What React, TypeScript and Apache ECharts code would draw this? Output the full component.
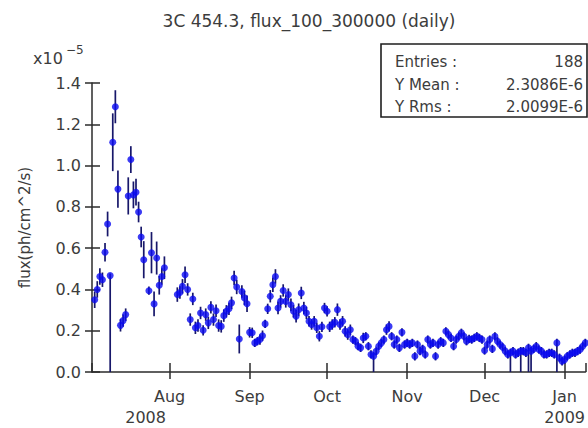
import React, { useEffect, useRef } from "react";
import * as echarts from "echarts";

// Daily light curve of 3C 454.3, flux in units of 1e-5 ph/cm^2/s.
const chartTitle = "3C 454.3, flux_100_300000 (daily)";
const yAxisTitle = "flux(ph/cm^2/s)";
const monthNames = ["Jan", "Feb", "Mar", "Apr", "May", "Jun", "Jul", "Aug", "Sep", "Oct", "Nov", "Dec"];

// First daily bin: 2008-07-03 (month is 0-based)
const firstDay = [2008, 6, 3];

const flux: (number | null)[] = [
  0.35, 0.4, 0.463, 0.447, 0.58, 0.717, 0.467, 1.113, 1.285, 0.886,
  0.226, 0.249, 0.278, 0.853, 1.029, 0.858, 0.871, 0.775, 0.654, 0.544,
  null, 0.394, 0.578, 0.33, 0.552, 0.42, 0.463, 0.505, null, null,
  null, null, 0.375, 0.385, 0.415, 0.471, 0.4, 0.254, 0.354, 0.214,
  0.225, 0.286, 0.202, 0.278, 0.238, 0.313, 0.254, 0.297, 0.225, 0.221,
  0.273, 0.294, 0.306, 0.335, 0.455, 0.412, 0.16, 0.39, 0.359, 0.331,
  0.192, 0.19, 0.141, 0.149, 0.157, 0.176, 0.233, 0.306, 0.367, 0.423,
  0.463, 0.31, 0.342, 0.395, 0.342, 0.375, 0.326, 0.294, 0.27, 0.302,
  0.383, 0.31, 0.286, 0.246, 0.23, 0.246, 0.214, 0.173, 0.219, 0.31,
  0.294, 0.219, 0.23, 0.241, 0.302, 0.23, 0.246, 0.197, 0.181, 0.205,
  0.157, 0.149, 0.125, 0.117, 0.165, 0.173, 0.125, 0.085, 0.076, 0.1,
  0.125, 0.141, 0.157, 0.205, 0.221, 0.173, 0.133, 0.157, 0.117, 0.192,
  0.133, 0.141, 0.133, 0.141, 0.076, 0.133, 0.101, 0.112, 0.085, 0.157,
  0.133, 0.141, 0.076, 0.133, 0.149, 0.141, 0.197, 0.181, 0.165, 0.125,
  0.157, 0.173, 0.19, 0.173, 0.149, 0.16, 0.157, 0.165, 0.173, 0.165,
  0.157, 0.104, 0.133, 0.157, 0.112, 0.173, 0.149, 0.133, 0.12, 0.101,
  0.085, 0.093, 0.101, 0.085, 0.093, 0.101, 0.101, 0.093, 0.117, 0.101,
  0.112, 0.125, 0.109, 0.101, 0.085, 0.085, 0.093, 0.093, 0.085, 0.141,
  0.069, 0.052, 0.06, 0.076, 0.085, 0.093, 0.093, 0.101, 0.109, 0.125,
  0.141,
];

const fluxErr: (number | null)[] = [
  0.04, 0.04, 0.04, 0.035, 0.045, 0.06, 0.01, 0.14, 0.08, 0.09,
  0.03, 0.03, 0.03, 0.09, 0.065, 0.065, 0.065, 0.05, 0.05, 0.09,
  null, 0.02, 0.1, 0.06, 0.08, 0.045, 0.04, 0.055, null, null,
  null, null, 0.035, 0.03, 0.035, 0.04, 0.03, 0.03, 0.03, 0.03,
  0.03, 0.03, 0.025, 0.03, 0.03, 0.03, 0.03, 0.03, 0.03, 0.03,
  0.03, 0.03, 0.03, 0.03, 0.035, 0.035, 0.07, 0.03, 0.035, 0.04,
  0.025, 0.025, 0.02, 0.02, 0.025, 0.025, 0.02, 0.025, 0.03, 0.035,
  0.035, 0.03, 0.03, 0.03, 0.03, 0.03, 0.03, 0.03, 0.03, 0.03,
  0.03, 0.03, 0.03, 0.025, 0.025, 0.025, 0.025, 0.025, 0.025, 0.025,
  0.025, 0.025, 0.025, 0.025, 0.03, 0.025, 0.025, 0.025, 0.025, 0.025,
  0.02, 0.02, 0.02, 0.02, 0.025, 0.02, 0.02, 0.02, 0.02, 0.02,
  0.02, 0.02, 0.02, 0.025, 0.025, 0.02, 0.02, 0.02, 0.02, 0.02,
  0.02, 0.02, 0.02, 0.02, 0.02, 0.02, 0.02, 0.02, 0.02, 0.02,
  0.02, 0.02, 0.02, 0.02, 0.02, 0.02, 0.02, 0.02, 0.02, 0.02,
  0.02, 0.02, 0.02, 0.02, 0.02, 0.02, 0.02, 0.02, 0.02, 0.02,
  0.02, 0.02, 0.02, 0.02, 0.02, 0.02, 0.02, 0.02, 0.02, 0.02,
  0.02, 0.02, 0.02, 0.02, 0.02, 0.02, 0.02, 0.02, 0.02, 0.02,
  0.02, 0.02, 0.02, 0.02, 0.02, 0.02, 0.02, 0.02, 0.02, 0.02,
  0.02, 0.02, 0.02, 0.02, 0.02, 0.02, 0.02, 0.02, 0.02, 0.02,
  0.02,
];

// Bins whose lower error bar reaches zero
const lowerBarToZero = [6, 108, 161, 165, 168, 169, 179];

const statLabels = ["Entries :", "Y Mean :", "Y Rms :"];
const statValues = ["188", "2.3086E-6", "2.0099E-6"];

const FONT = "DejaVu Sans";
const TEXT = "#3c3c3c";
const AXIS = "#2b2b2b";

export default function App() {
  const ref = useRef<HTMLDivElement>(null);

  useEffect(() => {
    if (!ref.current) return;
    const chart = echarts.init(ref.current, null, { renderer: "svg" });

    const day = (i: number) => new Date(firstDay[0], firstDay[1], firstDay[2] + i).getTime();
    const points: number[][] = [];
    const bars: number[][] = [];
    flux.forEach((v, i) => {
      if (v == null) return;
      const e = fluxErr[i] ?? 0;
      const lo = lowerBarToZero.includes(i) ? 0 : v - e;
      points.push([day(i), v]);
      bars.push([day(i), v, lo, v + e]);
    });

    const xMin = new Date(2008, 6, 1, 23).getTime();
    const xMax = new Date(2009, 0, 9, 2).getTime();

    const tickStyle = { color: AXIS, width: 1.5 };

    chart.setOption({
      animation: false,
      backgroundColor: "#ffffff",
      title: {
        text: chartTitle,
        left: 304,
        top: 7,
        textAlign: "center",
        textStyle: { fontFamily: FONT, fontSize: 17, fontWeight: "normal", color: TEXT },
      },
      grid: { left: 92, top: 83, right: 0, bottom: 55, containLabel: false },
      xAxis: [
        {
          type: "time",
          min: xMin,
          max: xMax,
          splitNumber: 6,
          axisLine: { lineStyle: { color: AXIS, width: 1.5 } },
          axisTick: { show: true, length: 7, lineStyle: tickStyle },
          splitLine: { show: false },
          axisLabel: {
            margin: 14,
            fontFamily: FONT,
            fontSize: 16,
            color: TEXT,
            lineHeight: 21,
            hideOverlap: false,
            formatter: (value: number) => {
              const d = new Date(value);
              const m = monthNames[d.getMonth()];
              if (d.getMonth() === 7) return m + "\n{yl|" + d.getFullYear() + "}";
              if (d.getMonth() === 0) return m + "\n{yr|" + d.getFullYear() + "}";
              return m;
            },
            rich: {
              yl: { fontFamily: FONT, fontSize: 16, color: TEXT, padding: [0, 48, 0, 0] },
              yr: { fontFamily: FONT, fontSize: 16, color: TEXT },
            },
          },
        },
        {
          type: "time",
          min: xMin,
          max: xMax,
          splitNumber: 6,
          position: "bottom",
          offset: 0,
          axisLine: { show: false },
          axisTick: { show: true, inside: true, length: 9, lineStyle: tickStyle },
          axisLabel: { show: false },
          splitLine: { show: false },
        },
      ],
      yAxis: [
        {
          type: "value",
          min: 0,
          max: 1.4,
          interval: 0.2,
          name: yAxisTitle,
          nameLocation: "middle",
          nameGap: 60,
          nameRotate: 90,
          nameTextStyle: { fontFamily: FONT, fontSize: 15, color: TEXT },
          axisLine: { show: true, lineStyle: { color: AXIS, width: 1.5 } },
          axisTick: { show: true, length: 7, lineStyle: tickStyle },
          splitLine: { show: false },
          axisLabel: {
            margin: 11,
            fontFamily: FONT,
            fontSize: 16,
            color: TEXT,
            formatter: (v: number) => v.toFixed(1),
          },
        },
        {
          type: "value",
          min: 0,
          max: 1.4,
          interval: 0.2,
          position: "left",
          offset: 0,
          axisLine: { show: false },
          axisTick: { show: true, inside: true, length: 8, lineStyle: tickStyle },
          axisLabel: { show: false },
          splitLine: { show: false },
        },
      ],
      series: [
        {
          type: "custom",
          xAxisIndex: 0,
          yAxisIndex: 0,
          data: bars,
          encode: { x: 0, y: 1 },
          renderItem: (_params: any, api: any) => {
            const t = api.value(0);
            const a = api.coord([t, api.value(2)]);
            const b = api.coord([t, api.value(3)]);
            return {
              type: "line",
              shape: { x1: a[0], y1: a[1], x2: b[0], y2: b[1] },
              style: { stroke: "#17176a", lineWidth: 1.7 },
            };
          },
          z: 2,
        },
        {
          type: "scatter",
          xAxisIndex: 0,
          yAxisIndex: 0,
          data: points,
          symbol: "circle",
          symbolSize: 7,
          itemStyle: { color: "#0a0af0" },
          z: 3,
        },
      ],
      graphic: [
        {
          type: "text",
          left: 33,
          top: 50,
          style: { text: "x10", fontFamily: FONT, fontSize: 16, fill: TEXT },
        },
        {
          type: "text",
          left: 66,
          top: 44,
          style: { text: "\u22125", fontFamily: FONT, fontSize: 12, fill: TEXT },
        },
        {
          type: "rect",
          shape: { x: 381, y: 44, width: 206, height: 73 },
          style: { fill: "#ffffff", stroke: "#1e1e1e", lineWidth: 1.6 },
          z: 10,
        },
        ...statLabels.map((s, i) => ({
          type: "text",
          x: 395,
          y: 62 + i * 22.5,
          z: 11,
          style: { text: s, fontFamily: FONT, fontSize: 15, fill: TEXT, verticalAlign: "middle", align: "left" },
        })),
        ...statValues.map((s, i) => ({
          type: "text",
          x: 583,
          y: 62 + i * 22.5,
          z: 11,
          style: { text: s, fontFamily: FONT, fontSize: 15, fill: TEXT, verticalAlign: "middle", align: "right" },
        })),
      ],
    });

    return () => chart.dispose();
  }, []);

  return (
    <div
      ref={ref}
      style={{ position: "absolute", left: 0, top: 0, width: 588, height: 428, background: "#fff" }}
    />
  );
}
